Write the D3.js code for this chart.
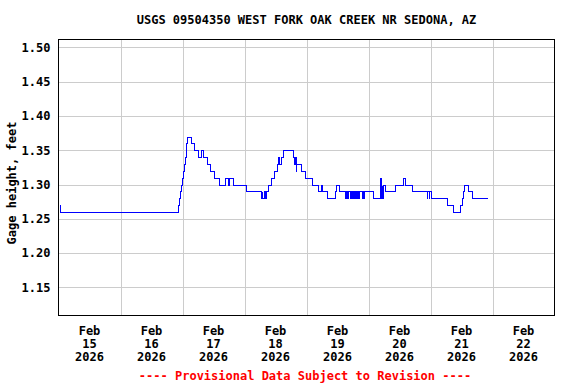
<!DOCTYPE html>
<html>
<head>
<meta charset="utf-8">
<script src="https://cdn.jsdelivr.net/npm/d3@7"></script>
<style>
  body { margin: 0; background: #fff; }
  text { font-family: "DejaVu Sans Mono", monospace; font-weight: bold; font-size: 12px; }
</style>
</head>
<body>
<script>
var title = "USGS 09504350 WEST FORK OAK CREEK NR SEDONA, AZ";
var yTitle = "Gage height, feet";
var footer = "---- Provisional Data Subject to Revision ----";
var yTicks = [1.15, 1.20, 1.25, 1.30, 1.35, 1.40, 1.45, 1.50];
var dayLabels = ["15", "16", "17", "18", "19", "20", "21", "22"];

// hours after 2026-02-15 00:00, and gage height (ft) from then on
var hours = [0, 0.5, 46.2, 46.7, 47.1, 47.5, 47.9, 48.3, 48.7, 49.1, 49.5, 49.8,
  51.1, 52.4, 54.0, 55.1, 55.8, 57.3, 58.8, 60.2, 62.2, 64.5, 65.7, 66.0, 67.4,
  72.4, 78.2, 78.6, 78.8, 79.4, 79.9, 80.5, 81.1, 82.2, 83.3, 84.4, 85.0, 85.3,
  86.1, 86.9, 90.6, 91.2, 91.5, 91.8, 92.1, 93.7, 95.6, 98.2, 100.3, 101.8, 102.0,
  104.1, 107.0, 107.4, 108.7,
  110.8, 111.1, 111.7, 112.0, 112.8, 113.0, 113.4, 113.6, 114.1, 114.3, 114.6, 114.8,
  115.0, 115.3, 115.6, 115.8, 116.3, 116.5, 117.3, 117.5, 117.9, 118.1,
  121.8, 124.4, 124.9, 125.1, 125.4, 125.7, 126.3, 130.2, 133.4, 134.1, 135.0, 136.7,
  142.5, 142.8, 143.3, 143.6, 144.2, 149.6, 150.5, 152.8, 155.4, 156.0, 156.7,
  157.0, 158.6, 159.3, 160.1, 165.7];
var gage = [1.27, 1.26, 1.27, 1.28, 1.29, 1.30, 1.31, 1.32, 1.33, 1.34, 1.36, 1.37,
  1.36, 1.35, 1.34, 1.35, 1.34, 1.33, 1.32, 1.31, 1.30, 1.31, 1.30, 1.31, 1.30,
  1.29, 1.28, 1.29, 1.28, 1.29, 1.28, 1.29, 1.30, 1.31, 1.32, 1.33, 1.34, 1.33,
  1.34, 1.35, 1.34, 1.33, 1.34, 1.32, 1.33, 1.32, 1.31, 1.30, 1.29, 1.30, 1.29,
  1.28, 1.29, 1.30, 1.29,
  1.28, 1.29, 1.28, 1.29, 1.28, 1.29, 1.28, 1.29, 1.28, 1.29, 1.28, 1.29,
  1.28, 1.29, 1.28, 1.29, 1.28, 1.29, 1.28, 1.29, 1.28, 1.29,
  1.28, 1.31, 1.28, 1.30, 1.28, 1.30, 1.29, 1.30, 1.31, 1.30, 1.30, 1.29,
  1.28, 1.29, 1.28, 1.29, 1.28, 1.28, 1.27, 1.26, 1.27, 1.28, 1.29,
  1.30, 1.29, 1.29, 1.28, 1.28];

var start = new Date(2026, 1, 15);
var end = new Date(2026, 1, 23);

var W = 576, H = 384;
var mLeft = 58.5, mRight = 554.5, mTop = 39.5, mBottom = 315.5;

var svg = d3.select("body").append("svg")
    .attr("width", W)
    .attr("height", H);

var x = d3.scaleTime().domain([start, end]).range([mLeft, mRight]);
var y = d3.scaleLinear().domain([1.109, 1.5115]).range([mBottom, mTop]);

var data = hours.map(function (h, i) {
    return { t: d3.timeMinute.offset(start, Math.round(h * 60)), v: gage[i] };
});

// grid
var days = d3.timeDay.range(start, end);
svg.append("g")
    .attr("transform", "translate(0," + mBottom + ")")
    .call(d3.axisBottom(x).tickValues(days.slice(1)).tickSize(-(mBottom - mTop)).tickFormat(""))
    .call(function (g) { g.select(".domain").remove(); })
    .selectAll("line").attr("stroke", "#cccccc").attr("shape-rendering", "crispEdges");

svg.append("g")
    .attr("transform", "translate(" + mLeft + ",0)")
    .call(d3.axisLeft(y).tickValues(yTicks).tickSize(-(mRight - mLeft)).tickPadding(8).tickFormat(d3.format(".2f")))
    .call(function (g) { g.select(".domain").remove(); })
    .call(function (g) {
        g.selectAll("line").attr("stroke", "#cccccc").attr("shape-rendering", "crispEdges");
        g.selectAll("text").attr("fill", "#000").style("font-size", "12px");
    });

// series
svg.append("path")
    .datum(data)
    .attr("fill", "none")
    .attr("stroke", "#0000ff")
    .attr("stroke-width", 1)
    .attr("shape-rendering", "crispEdges")
    .attr("d", d3.line()
        .x(function (d) { return Math.round(x(d.t)) + 0.5; })
        .y(function (d) { return Math.round(y(d.v)) + 0.5; })
        .curve(d3.curveStepAfter));

// frame
svg.append("rect")
    .attr("x", mLeft).attr("y", mTop)
    .attr("width", mRight - mLeft).attr("height", mBottom - mTop)
    .attr("fill", "none").attr("stroke", "#000").attr("stroke-width", 1)
    .attr("shape-rendering", "crispEdges");

// date labels at noon
var noons = days.map(function (d) { return d3.timeHour.offset(d, 12); });
var xl = svg.selectAll(".xl")
    .data(noons)
    .enter()
    .append("text")
    .attr("class", "xl")
    .attr("text-anchor", "middle")
    .attr("x", function (d) { return x(d); })
    .attr("y", 335);
xl.append("tspan").attr("x", function (d) { return x(d); }).text("Feb");
xl.append("tspan").attr("x", function (d) { return x(d); }).attr("dy", 13)
    .text(function (d, i) { return dayLabels[i]; });
xl.append("tspan").attr("x", function (d) { return x(d); }).attr("dy", 13).text("2026");

svg.append("text")
    .attr("x", (mLeft + mRight) / 2)
    .attr("y", 24)
    .attr("text-anchor", "middle")
    .text(title);

svg.append("text")
    .attr("transform", "translate(16," + 183 + ") rotate(-90)")
    .attr("text-anchor", "middle")
    .text(yTitle);

svg.append("text")
    .attr("x", 305)
    .attr("y", 380)
    .attr("text-anchor", "middle")
    .attr("fill", "#ff0000")
    .text(footer);
</script>
</body>
</html>
